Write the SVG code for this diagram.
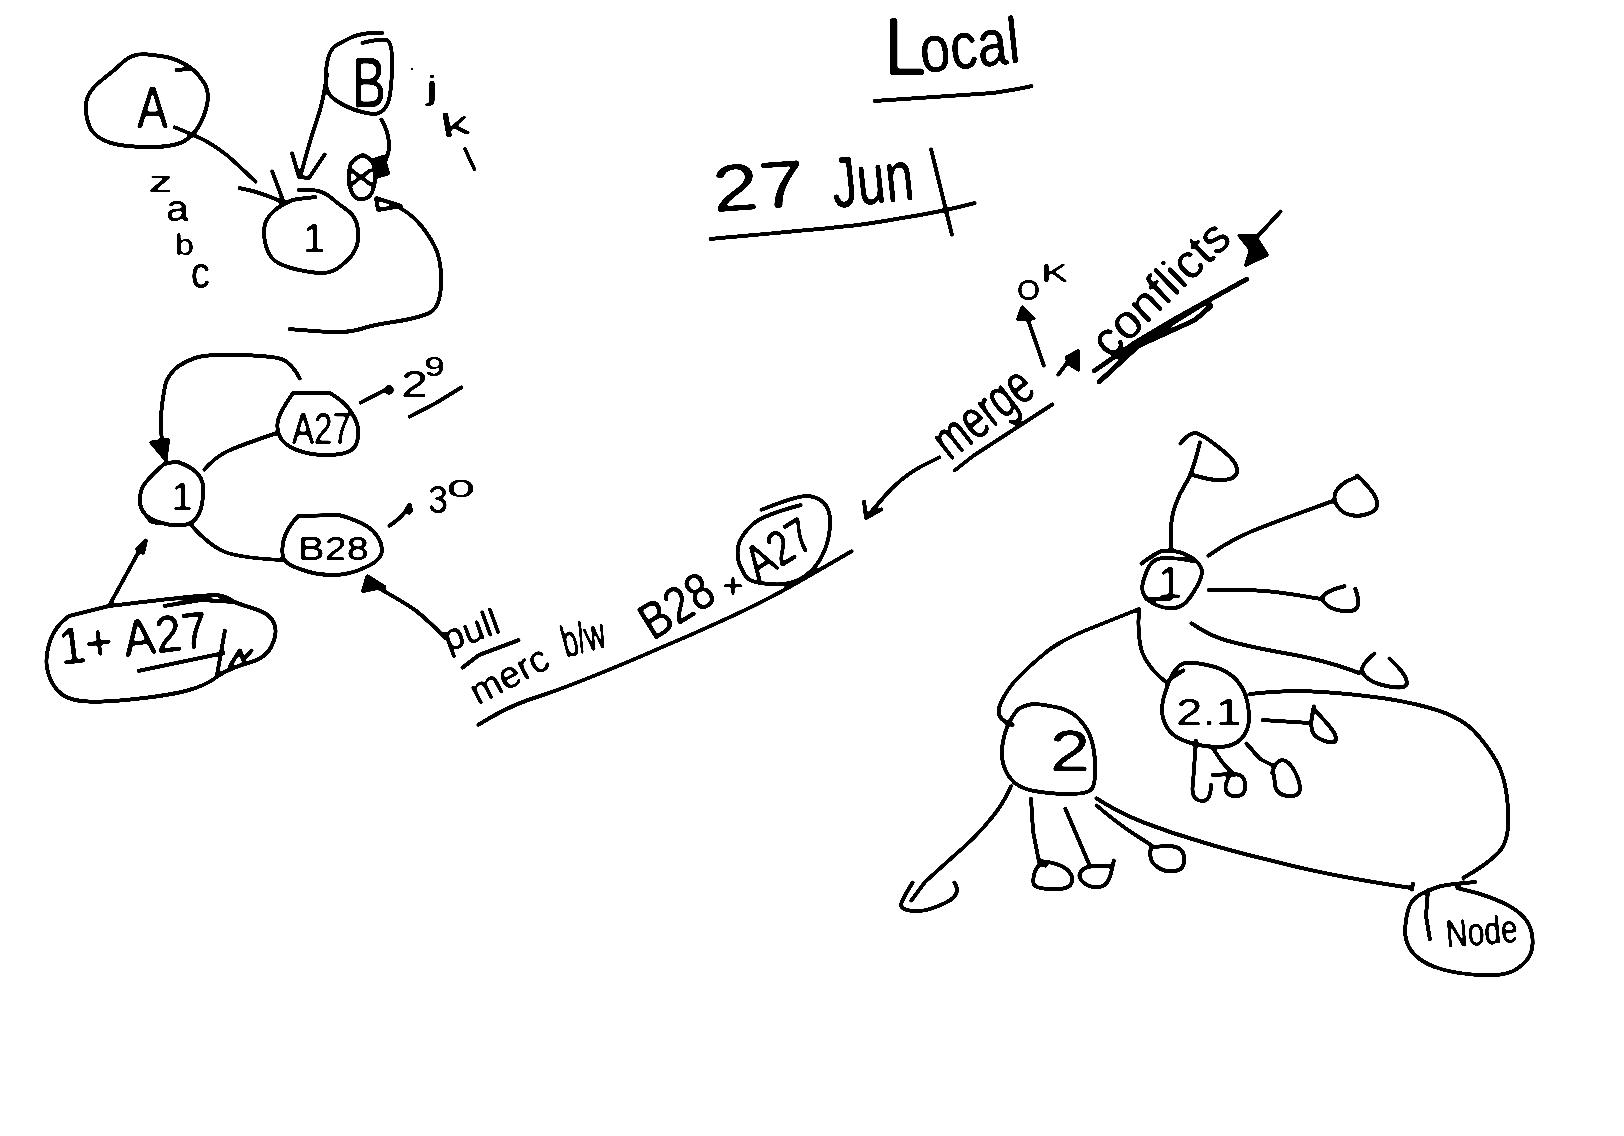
<svg xmlns="http://www.w3.org/2000/svg" width="1624" height="1136" viewBox="0 0 1624 1136">
<style>
.s{fill:none;stroke:#000;stroke-width:3.5;stroke-linecap:round;stroke-linejoin:round}
.f{fill:#000;stroke:#000;stroke-width:2;stroke-linejoin:round}
text{font-family:"Liberation Sans",Arial,sans-serif;fill:#000}
</style>
<defs>
<filter id="ink" x="0" y="0" width="1624" height="1136" filterUnits="userSpaceOnUse" color-interpolation-filters="sRGB">
<feGaussianBlur stdDeviation="0.9"/>
<feComponentTransfer><feFuncA type="linear" slope="20" intercept="-8"/></feComponentTransfer>
</filter>
</defs>
<rect width="1624" height="1136" fill="#fff"/>
<g id="drawing" filter="url(#ink)">
<g id="connectors">
<path class="s" d="M174 127Q194 135 206 141Q218 148 228 156Q238 165 256 182"/>
<path class="s" d="M272 171L284 203M239 188Q262 192 284 203"/>
<path class="s" d="M327 74Q324 96 320 110Q316 123 312 135Q308 148 301 174"/>
<path class="s" d="M292 153L299 177 309 178 325 154"/>
<path class="s" d="M381 119Q388 130 389 143Q390 156 381 168"/>
<path class="f" d="M374 159L384 156 389 174 378 177Z"/>
<path class="s" d="M289 329Q332 333 343 332Q355 331 364 328Q373 325 393 322Q414 319 427 314Q440 310 441 285Q442 259 434 245Q427 232 418 222Q409 212 391 203"/>
<path class="s" d="M376 198L401 206 378 210Z"/>
<path class="s" d="M300 379Q293 365 284 360Q276 356 241 355Q207 354 195 358Q184 362 176 368Q169 375 166 382Q164 390 162 405Q160 420 162 443"/>
<path class="f" d="M150 442L169 439 166 461Z"/>
<path class="s" d="M204 470Q215 457 228 451Q241 445 277 433"/>
<path class="s" d="M192 526Q210 546 225 552Q241 558 281 560"/>
<path class="s" d="M360 403L385 390"/>
<circle class="s" cx="389" cy="390" r="3"/>
<path class="s" d="M389 526Q402 518 410 505"/>
<path class="f" d="M406 508L410 503 412 511 409 514Z"/>
<path class="s" d="M445 638Q428 620 415 610Q402 601 373 585"/>
<path class="f" d="M362 592L367 575 386 587Z"/>
<path class="s" d="M109 606L138 553"/>
<path class="s" d="M137 549L146 540 143 553Z"/>
<path class="s" d="M940 457L920 467Q900 478 883 498L866 518"/>
<path class="s" d="M864 501L866 518 882 509"/>
<path class="s" d="M1044 366L1025 311"/>
<path class="f" d="M1017 320L1022 306 1035 319Z"/>
<path class="s" d="M1058 375L1070 359"/>
<path class="f" d="M1066 357L1079 350 1079 371 1068 364Z"/>
<path class="s" d="M1281 211L1257 237"/>
<path class="f" d="M1238 235L1255 235 1268 255 1245 266 1250 250Z"/>
<path class="s" d="M1171 550L1171 530Q1171 518 1175 506Q1179 494 1186 483Q1193 472 1200 442"/>
<path class="s" d="M1208 556Q1227 542 1250 532Q1274 522 1333 501"/>
<path class="s" d="M1208 590L1250 590Q1274 591 1297 595L1321 599"/>
<path class="s" d="M1191 623Q1212 638 1236 643Q1260 649 1295 655Q1331 662 1359 673"/>
<path class="s" d="M1139 609Q1137 636 1142 652Q1148 668 1167 683"/>
<path class="s" d="M1139 609L1094 627Q1060 640 1044 654Q1027 668 1014 682Q1002 697 999 708Q996 720 1013 725"/>
<path class="s" d="M1250 694Q1274 691 1302 691Q1331 692 1366 696Q1402 700 1430 708Q1459 716 1474 731Q1488 746 1498 764Q1507 783 1508 811Q1510 840 1499 852Q1488 864 1463 878"/>
<path class="s" d="M1096 798Q1117 812 1145 823Q1174 834 1202 842Q1231 851 1269 860Q1307 870 1345 877Q1383 884 1412 888M1413 883L1412 890"/>
<path class="s" d="M1262 720L1310 723"/>
<path class="s" d="M1196 740L1193 783Q1190 801 1203 801Q1211 801 1211 784"/>
<path class="s" d="M1212 747L1222 762 1234 775"/>
<path class="s" d="M1246 743L1260 759 1274 766"/>
<path class="s" d="M1011 786Q1003 805 989 821Q975 838 956 854Q937 871 925 882L911 901"/>
<path class="s" d="M1031 798L1033 831 1039 862"/>
<path class="s" d="M1065 808L1089 864"/>
<path class="s" d="M1096 805Q1117 823 1134 834L1151 845"/>
</g>
<g id="node-a">
<path class="s" d="M143 54Q155 55 167 57Q179 60 188 66Q197 72 202 80Q208 87 208 98Q207 109 202 120Q197 132 186 140Q176 147 150 147Q124 147 111 143Q98 139 92 131Q87 123 86 112Q85 101 89 94Q93 87 103 79Q114 71 123 62Q132 54 143 54M176 70L189 69"/>
<text x="137" y="128" font-size="60" textLength="31" lengthAdjust="spacingAndGlyphs">A</text>
</g>
<g id="node-b">
<path class="s" d="M383 33L373 33Q363 33 352 37Q342 42 335 46Q329 51 327 63Q325 76 326 85Q327 94 334 99Q342 105 355 110Q368 114 375 114Q383 113 387 105Q391 98 392 70Q393 43 387 40Q381 38 362 43"/>
<text x="352" y="107" font-size="70" textLength="34" lengthAdjust="spacingAndGlyphs">B</text>
</g>
<g id="node-1">
<path class="s" d="M298 190L310 190Q321 190 329 196Q337 203 347 210Q357 217 358 230Q359 243 355 250Q352 257 342 265Q332 274 319 273Q306 272 291 268Q277 264 272 258Q267 252 265 242Q263 232 265 224Q267 217 275 210Q284 203 293 200Q303 198 316 197"/>
<text x="314" y="252" font-size="40" text-anchor="middle">1</text>
</g>
<g id="node-x">
<path class="s" d="M363 155Q352 159 350 166Q348 174 349 183Q351 192 354 196Q357 200 363 199Q370 199 373 190Q376 181 375 170Q374 159 363 155"/>
<text x="346" y="186" font-size="32" textLength="30" lengthAdjust="spacingAndGlyphs">x</text>
</g>
<g id="labels-abc">
<text x="148" y="192" font-size="29" textLength="25" lengthAdjust="spacingAndGlyphs">z</text>
<text x="166" y="221" font-size="36" textLength="23" lengthAdjust="spacingAndGlyphs">a</text>
<text x="175" y="255" font-size="30" textLength="19" lengthAdjust="spacingAndGlyphs">b</text>
<text x="191" y="288" font-size="44" textLength="19" lengthAdjust="spacingAndGlyphs">c</text>
<circle cx="412" cy="69" r="1.5"/>
<text x="426" y="99" font-size="34" textLength="12" lengthAdjust="spacingAndGlyphs">j</text>
<text x="441" y="136" font-size="34" textLength="29" lengthAdjust="spacingAndGlyphs" transform="rotate(-10 455 125)">k</text>
<text x="466" y="172" font-size="36" textLength="8" lengthAdjust="spacingAndGlyphs" transform="rotate(-25 470 160)">l</text>
</g>
<g id="title">
<text x="884" y="75" font-size="82" textLength="42" lengthAdjust="spacingAndGlyphs">L</text>
<text x="922" y="73" font-size="66" textLength="100" lengthAdjust="spacingAndGlyphs" transform="rotate(-6 922 73)">ocal</text>
<path class="s" d="M874 101L993 93Q1020 89 1032 86"/>
<text x="714" y="212" font-size="66" textLength="92" lengthAdjust="spacingAndGlyphs" transform="rotate(-4 714 212)">27</text>
<text x="834" y="208" font-size="72" textLength="82" lengthAdjust="spacingAndGlyphs" transform="rotate(-6 834 208)">Jun</text>
<path class="s" d="M931 149L952 235M710 239Q812 230 838 227Q864 225 902 218Q941 212 975 203"/>
</g>
<g id="node-1b">
<path class="s" d="M164 464Q171 462 178 462Q192 467 198 474Q205 482 203 496Q202 510 197 517Q192 525 182 525Q172 526 162 523Q152 520 147 516Q142 512 140 504Q139 497 142 488Q146 480 164 464"/>
<path class="f" d="M143 512L158 524 150 522Z"/>
<text x="182" y="510" font-size="38" text-anchor="middle">1</text>
</g>
<g id="node-a27">
<path class="s" d="M293 393L330 393Q347 403 353 415Q360 427 358 437Q357 447 350 451Q343 455 326 455Q310 455 297 450Q284 445 280 437Q276 430 278 420Q281 410 293 393"/>
<text x="292" y="444" font-size="44" textLength="59" lengthAdjust="spacingAndGlyphs">A27</text>
<text x="401" y="397" font-size="36" textLength="27" lengthAdjust="spacingAndGlyphs">2</text>
<text x="424" y="376" font-size="28" textLength="21" lengthAdjust="spacingAndGlyphs">9</text>
<path class="s" d="M409 417L436 403 462 387"/>
</g>
<g id="node-b28">
<path class="s" d="M298 516L339 515Q364 522 373 531Q382 540 382 550Q382 560 366 567Q350 575 333 575Q316 575 303 570Q290 566 285 561Q281 556 283 543Q285 530 298 516"/>
<text x="298" y="560" font-size="33" textLength="71" lengthAdjust="spacingAndGlyphs">B28</text>
<text x="428" y="513" font-size="38" textLength="20" lengthAdjust="spacingAndGlyphs">3</text>
<text x="447" y="497" font-size="24" textLength="28" lengthAdjust="spacingAndGlyphs">0</text>
</g>
<g id="node-1a27">
<path class="s" d="M109 606L69 616Q55 626 50 641Q45 657 47 668Q49 680 57 690Q66 700 82 701Q98 703 135 699Q172 695 189 690Q207 685 218 676Q230 668 248 663Q267 658 272 645Q278 633 274 623Q270 613 252 608Q235 603 231 600Q227 597 217 595Q207 594 109 606M164 606L201 600 235 602"/>
<text x="61" y="665" font-size="52" textLength="150" lengthAdjust="spacingAndGlyphs" transform="rotate(-7 61 665)">1+ A27</text>
<path class="s" d="M138 671L224 653M225 630L217 675M230 666L240 650 243 660 252 650"/>
</g>
<g id="label-merc">
<text x="448" y="652" font-size="38" textLength="58" lengthAdjust="spacingAndGlyphs" transform="rotate(-20 448 652)">pull</text>
<path class="s" d="M462 668L479 655 519 640"/>
<text x="478" y="706" font-size="38" textLength="84" lengthAdjust="spacingAndGlyphs" transform="rotate(-28 478 706)">merc</text>
<text x="566" y="658" font-size="46" textLength="44" lengthAdjust="spacingAndGlyphs" transform="rotate(-15 566 658)">b/w</text>
<text x="658" y="640" font-size="52" textLength="78" lengthAdjust="spacingAndGlyphs" transform="rotate(-32 658 650)">B28</text>
<text x="722" y="598" font-size="36" textLength="22" lengthAdjust="spacingAndGlyphs">+</text>
<path class="s" d="M478 725Q505 708 528 700Q551 693 591 677Q631 661 660 648Q689 636 717 623Q746 610 769 598Q792 586 852 551"/>
</g>
<g id="node-merge">
<path class="s" d="M761 510Q798 495 808 496Q818 497 824 503Q831 510 830 526Q829 543 822 556Q815 570 802 578Q789 586 770 584Q752 583 747 578Q743 573 739 563Q736 553 739 543Q743 533 753 524Q763 515 801 505"/>
<text x="758" y="582" font-size="50" textLength="70" lengthAdjust="spacingAndGlyphs" transform="rotate(-32 758 582)">A27</text>
</g>
<g id="label-merge">
<text x="950" y="462" font-size="56" textLength="112" lengthAdjust="spacingAndGlyphs" transform="rotate(-38 950 462)">merge</text>
<path class="s" d="M954 471L973 456 1053 404"/>
<text x="1017" y="300" font-size="30" textLength="23" lengthAdjust="spacingAndGlyphs">O</text>
<text x="1041" y="282" font-size="26" textLength="28" lengthAdjust="spacingAndGlyphs">K</text>
<text x="1110" y="360" font-size="48" textLength="172" lengthAdjust="spacingAndGlyphs" transform="rotate(-44 1110 360)">conflicts</text>
<path class="s" style="stroke-width:4.5" d="M1094 371L1133 344 1175 319 1247 279M1099 382L1138 346 1195 320 1211 306 1206 302 1164 328 1120 358"/>
</g>
<g id="leaf-1"><path class="s" d="M1180 444Q1189 432 1196 433Q1203 435 1213 443Q1224 451 1231 458Q1238 466 1237 472Q1236 479 1224 480Q1212 481 1193 475"/></g>
<g id="leaf-2"><path class="s" d="M1357 475Q1369 487 1373 493Q1378 500 1377 506Q1376 512 1367 514Q1359 517 1351 515Q1343 514 1338 507Q1333 500 1335 493Q1338 487 1347 481L1357 477"/></g>
<g id="leaf-3"><path class="s" d="M1355 588Q1359 598 1358 605Q1357 612 1346 611Q1336 611 1328 606Q1321 601 1323 596Q1326 592 1335 589L1345 586"/></g>
<g id="leaf-4"><path class="s" d="M1375 653Q1362 664 1362 669Q1362 675 1370 680Q1378 685 1392 687Q1407 689 1407 683Q1407 677 1398 667L1389 658"/></g>
<g id="leaf-5"><path class="s" d="M1314 706Q1310 723 1312 730Q1314 738 1325 741Q1336 745 1336 739Q1336 734 1330 727Q1324 720 1314 709"/></g>
<g id="leaf-6"><path class="s" d="M1212 775L1232 774Q1245 773 1245 785Q1246 796 1237 796Q1229 797 1226 791Q1224 786 1229 777"/></g>
<g id="leaf-7"><path class="s" d="M1272 773Q1276 760 1282 760Q1288 760 1294 770Q1300 781 1300 789Q1300 797 1288 796Q1276 795 1275 785L1274 775"/></g>
<g id="leaf-8"><path class="s" d="M913 882Q901 901 901 905Q901 910 914 911Q927 912 945 903Q963 895 954 882"/></g>
<g id="leaf-9"><path class="s" d="M1046 866Q1039 862 1035 871Q1032 881 1034 885Q1037 889 1053 889Q1070 890 1072 882Q1074 875 1065 868Q1056 862 1039 861"/></g>
<g id="leaf-10"><path class="s" d="M1109 866L1097 866Q1086 866 1081 871Q1077 877 1083 882Q1089 888 1098 887Q1108 887 1111 873L1114 860"/></g>
<g id="leaf-11"><path class="s" d="M1151 847L1168 846Q1184 846 1184 858Q1185 870 1175 871Q1165 873 1156 866Q1148 860 1151 847"/></g>
<g id="tree-1">
<path class="s" d="M1141 564Q1155 553 1162 551Q1170 550 1179 552Q1189 555 1195 560Q1202 566 1202 572Q1202 579 1193 593Q1184 608 1174 608Q1165 609 1156 605Q1148 601 1144 595Q1141 590 1143 582Q1145 575 1148 568Q1151 562 1158 559Q1165 556 1193 561M1146 599L1170 599"/>
<text x="1158" y="598" font-size="44" textLength="24" lengthAdjust="spacingAndGlyphs">1</text>
</g>
<g id="tree-21">
<path class="s" d="M1170 679Q1177 664 1185 663Q1193 662 1207 665Q1222 668 1231 675Q1241 683 1245 694Q1249 705 1249 718Q1249 731 1241 739Q1234 747 1218 747Q1203 747 1188 742Q1174 738 1168 729Q1162 720 1162 710Q1162 701 1166 690L1170 679 1184 670"/>
<text x="1176" y="725" font-size="36" textLength="66" lengthAdjust="spacingAndGlyphs">2.1</text>
</g>
<g id="tree-2">
<path class="s" d="M1018 709Q1027 704 1036 704Q1046 705 1060 708Q1075 712 1084 725Q1094 738 1095 762Q1096 786 1091 790Q1086 794 1068 794Q1051 794 1034 791Q1018 788 1011 779Q1004 771 1002 758Q1001 746 1005 733Q1009 720 1018 709"/>
<text x="1050" y="771" font-size="58" textLength="40" lengthAdjust="spacingAndGlyphs">2</text>
</g>
<g id="tree-node">
<path class="s" d="M1476 882L1464 883Q1452 884 1441 886Q1431 889 1421 894Q1412 899 1409 907Q1406 916 1405 930Q1405 944 1413 953Q1421 962 1435 967Q1450 973 1478 975Q1507 977 1518 968Q1530 960 1532 949Q1534 938 1530 927Q1526 916 1511 907Q1497 899 1477 893L1457 888M1428 890L1426 916 1430 940"/>
<text x="1447" y="948" font-size="40" textLength="72" lengthAdjust="spacingAndGlyphs" transform="rotate(-5 1447 948)">Node</text>
</g>
</g>
</svg>
